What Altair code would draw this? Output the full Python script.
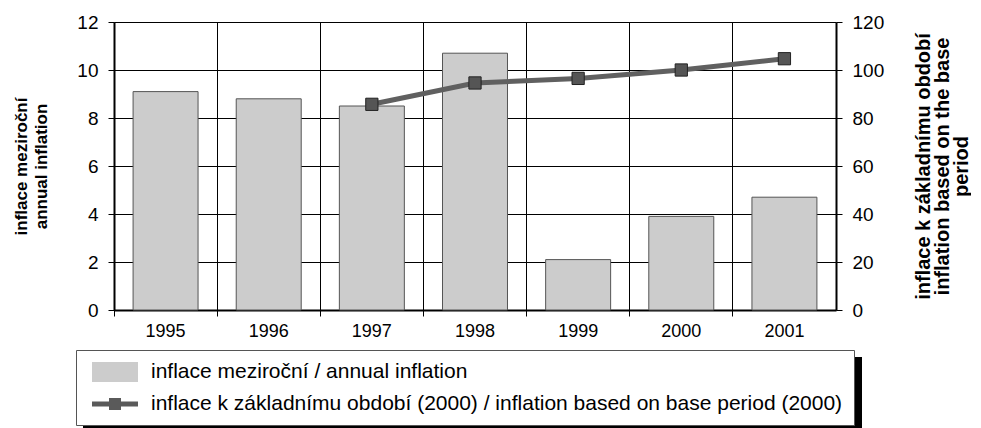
import altair as alt
import pandas as pd

years = ["1995", "1996", "1997", "1998", "1999", "2000", "2001"]
annual = [9.1, 8.8, 8.5, 10.7, 2.1, 3.9, 4.7]
base_years = ["1997", "1998", "1999", "2000", "2001"]
base_vals = [85.7, 94.6, 96.5, 100.0, 104.7]

s_bar = "inflace meziroční / annual inflation"
s_line = "inflace k základnímu období (2000) / inflation based on base period (2000)"

df_bar = pd.DataFrame({"year": years, "annual": annual, "series": s_bar})
df_line = pd.DataFrame({"year": base_years, "base": base_vals, "series": s_line})

FONT = "Liberation Sans"
W, H = 722, 288

xenc = alt.X("year:O", scale=alt.Scale(domain=years, paddingInner=0, paddingOuter=0),
             axis=alt.Axis(title=None, labelAngle=0, bandPosition=0,
                           grid=True, gridColor="#000000", gridWidth=1,
                           tickColor="#000000", tickSize=6, domainColor="#000000", domainWidth=2,
                           labelFont=FONT, labelFontSize=18, labelColor="#000000", labelPadding=6))

bars = alt.Chart(df_bar).mark_bar(width=alt.RelativeBandSize(0.63), fill="#cccccc",
                                  stroke="#555555", strokeWidth=1).encode(
    x=xenc,
    y=alt.Y("annual:Q", scale=alt.Scale(domain=[0, 12]),
            axis=alt.Axis(orient="left", values=[0, 2, 4, 6, 8, 10, 12], grid=True,
                          gridColor="#000000", gridWidth=1, tickColor="#000000", tickSize=6,
                          domainColor="#000000", domainWidth=2,
                          labelFont=FONT, labelFontSize=19, labelColor="#000000", labelPadding=10,
                          title=["inflace meziroční", "annual inflation"], titleFont=FONT,
                          titleFontSize=17, titleFontWeight="bold", titleColor="#000000",
                          titleLineHeight=20, titlePadding=26)),
)

legend_path_bar = "M-2.19,-0.95H2.19V0.95H-2.19Z"
legend_path_line = "M-2.19,-0.24H2.19V0.24H-2.19Z M-0.57,-0.57H0.57V0.57H-0.57Z"

legend_layer = alt.Chart(df_bar).mark_point(filled=True, opacity=1).encode(
    x=alt.value(0),
    y=alt.value(-5000),
    color=alt.Color("series:N", scale=alt.Scale(domain=[s_bar, s_line], range=["#cccccc", "#5a5a5a"]),
                    legend=alt.Legend(title=None, orient="none", legendX=-38, legendY=328,
                                      fillColor="#ffffff", strokeColor="#555555", padding=11,
                                      labelFont=FONT, labelFontSize=21, labelColor="#000000",
                                      symbolSize=441, symbolOpacity=1, symbolStrokeColor="#444444",
                                      symbolStrokeWidth=1, labelOffset=25, symbolOffset=17,
                                      rowPadding=9, labelLimit=900)),
    shape=alt.Shape("series:N", scale=alt.Scale(domain=[s_bar, s_line],
                                                range=[legend_path_bar, legend_path_line]),
                    legend=alt.Legend(title=None, orient="none", legendX=-38, legendY=328)),
)

line = alt.Chart(df_line).mark_line(color="#606060", strokeWidth=5).encode(
    x=alt.X("year:O"),
    y=alt.Y("base:Q", scale=alt.Scale(domain=[0, 120]),
            axis=alt.Axis(orient="right", values=[0, 20, 40, 60, 80, 100, 120], grid=False,
                          tickColor="#000000", tickSize=6, domainColor="#000000", domainWidth=2,
                          labelFont=FONT, labelFontSize=19, labelColor="#000000", labelPadding=10,
                          title=["inflace k základnímu období", "inflation based on the base", "period"],
                          titleFont=FONT, titleFontSize=20, titleFontWeight="bold",
                          titleColor="#000000", titleAngle=270, titleLineHeight=19,
                          titlePadding=12)),
)
markers = alt.Chart(df_line).mark_point(shape="square", filled=True, size=150, fill="#555555",
                                        stroke="#222222", strokeWidth=1, opacity=1).encode(
    x=alt.X("year:O"),
    y=alt.Y("base:Q"),
)

shadow = alt.Chart(pd.DataFrame({"s": [0]})).mark_rect(color="#000000").encode(
    x=alt.value(-31), x2=alt.value(748), y=alt.value(335), y2=alt.value(410))

left = alt.layer(shadow, bars, legend_layer)
right = alt.layer(line, markers)

chart = alt.layer(left, right).resolve_scale(y="independent").properties(
    width=W, height=H, padding={"left": 106, "top": 14, "right": 135, "bottom": 118},
    autosize=alt.AutoSizeParams(type="none"),
).configure_view(stroke="#000000", strokeWidth=2).configure(background="#ffffff")

chart.save("out.html", embed_options={"renderer": "svg", "actions": False})
